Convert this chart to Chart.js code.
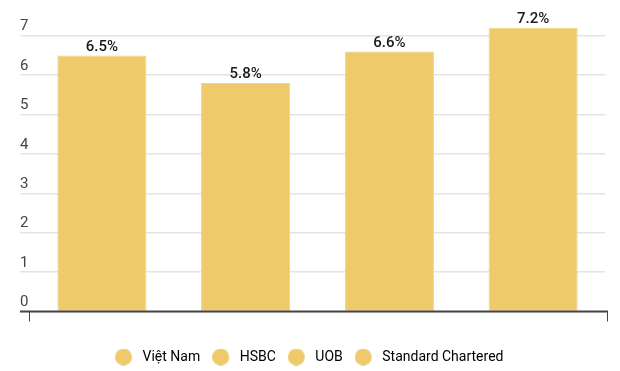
<!DOCTYPE html>
<html>
<head>
<meta charset="utf-8">
<script src="https://cdn.jsdelivr.net/npm/chart.js@4"></script>
<style>
  html, body { margin: 0; padding: 0; background: #fff; }
  #wrap { width: 620px; height: 371px; }
</style>
</head>
<body>
<div id="wrap"><canvas id="chart"></canvas></div>
<script>
// ===== DATA =====
const banks = ['Việt Nam', 'HSBC', 'UOB', 'Standard Chartered'];
const growth = [6.5, 5.8, 6.6, 7.2];
const yTicks = [0, 1, 2, 3, 4, 5, 6, 7];

const BAR = '#efca6b';
const FONT = 'Roboto';

// legend marker: circle sitting on the left of a wider image
function legendDot() {
  const c = document.createElement('canvas');
  c.width = 27; c.height = 17;
  const g = c.getContext('2d');
  g.fillStyle = BAR;
  g.beginPath(); g.arc(8.5, 8.5, 8.5, 0, Math.PI * 2); g.fill();
  return c;
}
const dot = legendDot();

// value labels above bars + baseline with end ticks
const decor = {
  id: 'decor',
  afterDatasetsDraw(chart) {
    const { ctx, chartArea } = chart;
    const meta = chart.getDatasetMeta(0);
    ctx.save();
    ctx.font = '500 15px ' + FONT;
    ctx.fillStyle = '#1a1a1a';
    ctx.textAlign = 'center';
    ctx.textBaseline = 'bottom';
    meta.data.forEach((bar, i) => {
      ctx.fillText(growth[i].toFixed(1) + '%', bar.x, bar.y - 1);
    });
    // x axis line
    const y = chart.scales.y.getPixelForValue(0);
    const x0 = chart.scales.y.left, x1 = chartArea.right + 3;
    ctx.strokeStyle = '#444';
    ctx.lineWidth = 2;
    ctx.beginPath(); ctx.moveTo(x0, y); ctx.lineTo(x1, y); ctx.stroke();
    ctx.lineWidth = 1;
    ctx.beginPath();
    ctx.moveTo(chartArea.left - 0.5, y); ctx.lineTo(chartArea.left - 0.5, y + 10);
    ctx.moveTo(x1 - 0.5, y); ctx.lineTo(x1 - 0.5, y + 10);
    ctx.stroke();
    ctx.restore();
  }
};

new Chart(document.getElementById('chart'), {
  type: 'bar',
  data: {
    labels: banks,
    datasets: [{
      data: growth,
      backgroundColor: BAR,
      borderColor: '#f2d27f',
      borderWidth: 1,
      barPercentage: 0.62,
      categoryPercentage: 1
    }]
  },
  options: {
    responsive: true, maintainAspectRatio: false,
    animation: false,
    layout: { padding: { left: 20, right: 15, top: 16, bottom: -3 } },
    plugins: {
      tooltip: { enabled: false },
      legend: {
        position: 'bottom',
        labels: {
          usePointStyle: true,
          boxWidth: 14, boxHeight: 14,
          padding: 18.5,
          color: '#333',
          font: { family: FONT, size: 14 },
          generateLabels: chart => banks.map((b, i) => ({
            text: b, pointStyle: dot, fillStyle: BAR, strokeStyle: BAR,
            lineWidth: 0, hidden: false, index: i, datasetIndex: 0
          }))
        },
        onClick: () => {}
      }
    },
    scales: {
      x: {
        display: true,
        grid: { display: false },
        border: { display: false },
        ticks: { display: false },
        afterFit: s => { s.height = 20; }
      },
      y: {
        min: 0, max: 7.5,
        afterBuildTicks: s => { s.ticks = yTicks.map(v => ({ value: v })); },
        afterFit: s => { s.width = 10; },
        border: { display: false },
        grid: { color: '#e4e4e4', lineWidth: 1.5, tickLength: 10, drawTicks: true },
        ticks: {
          crossAlign: 'far', labelOffset: -9, padding: 0,
          color: '#444', font: { family: FONT, size: 15 }
        }
      }
    }
  },
  plugins: [decor]
});
</script>
</body>
</html>
